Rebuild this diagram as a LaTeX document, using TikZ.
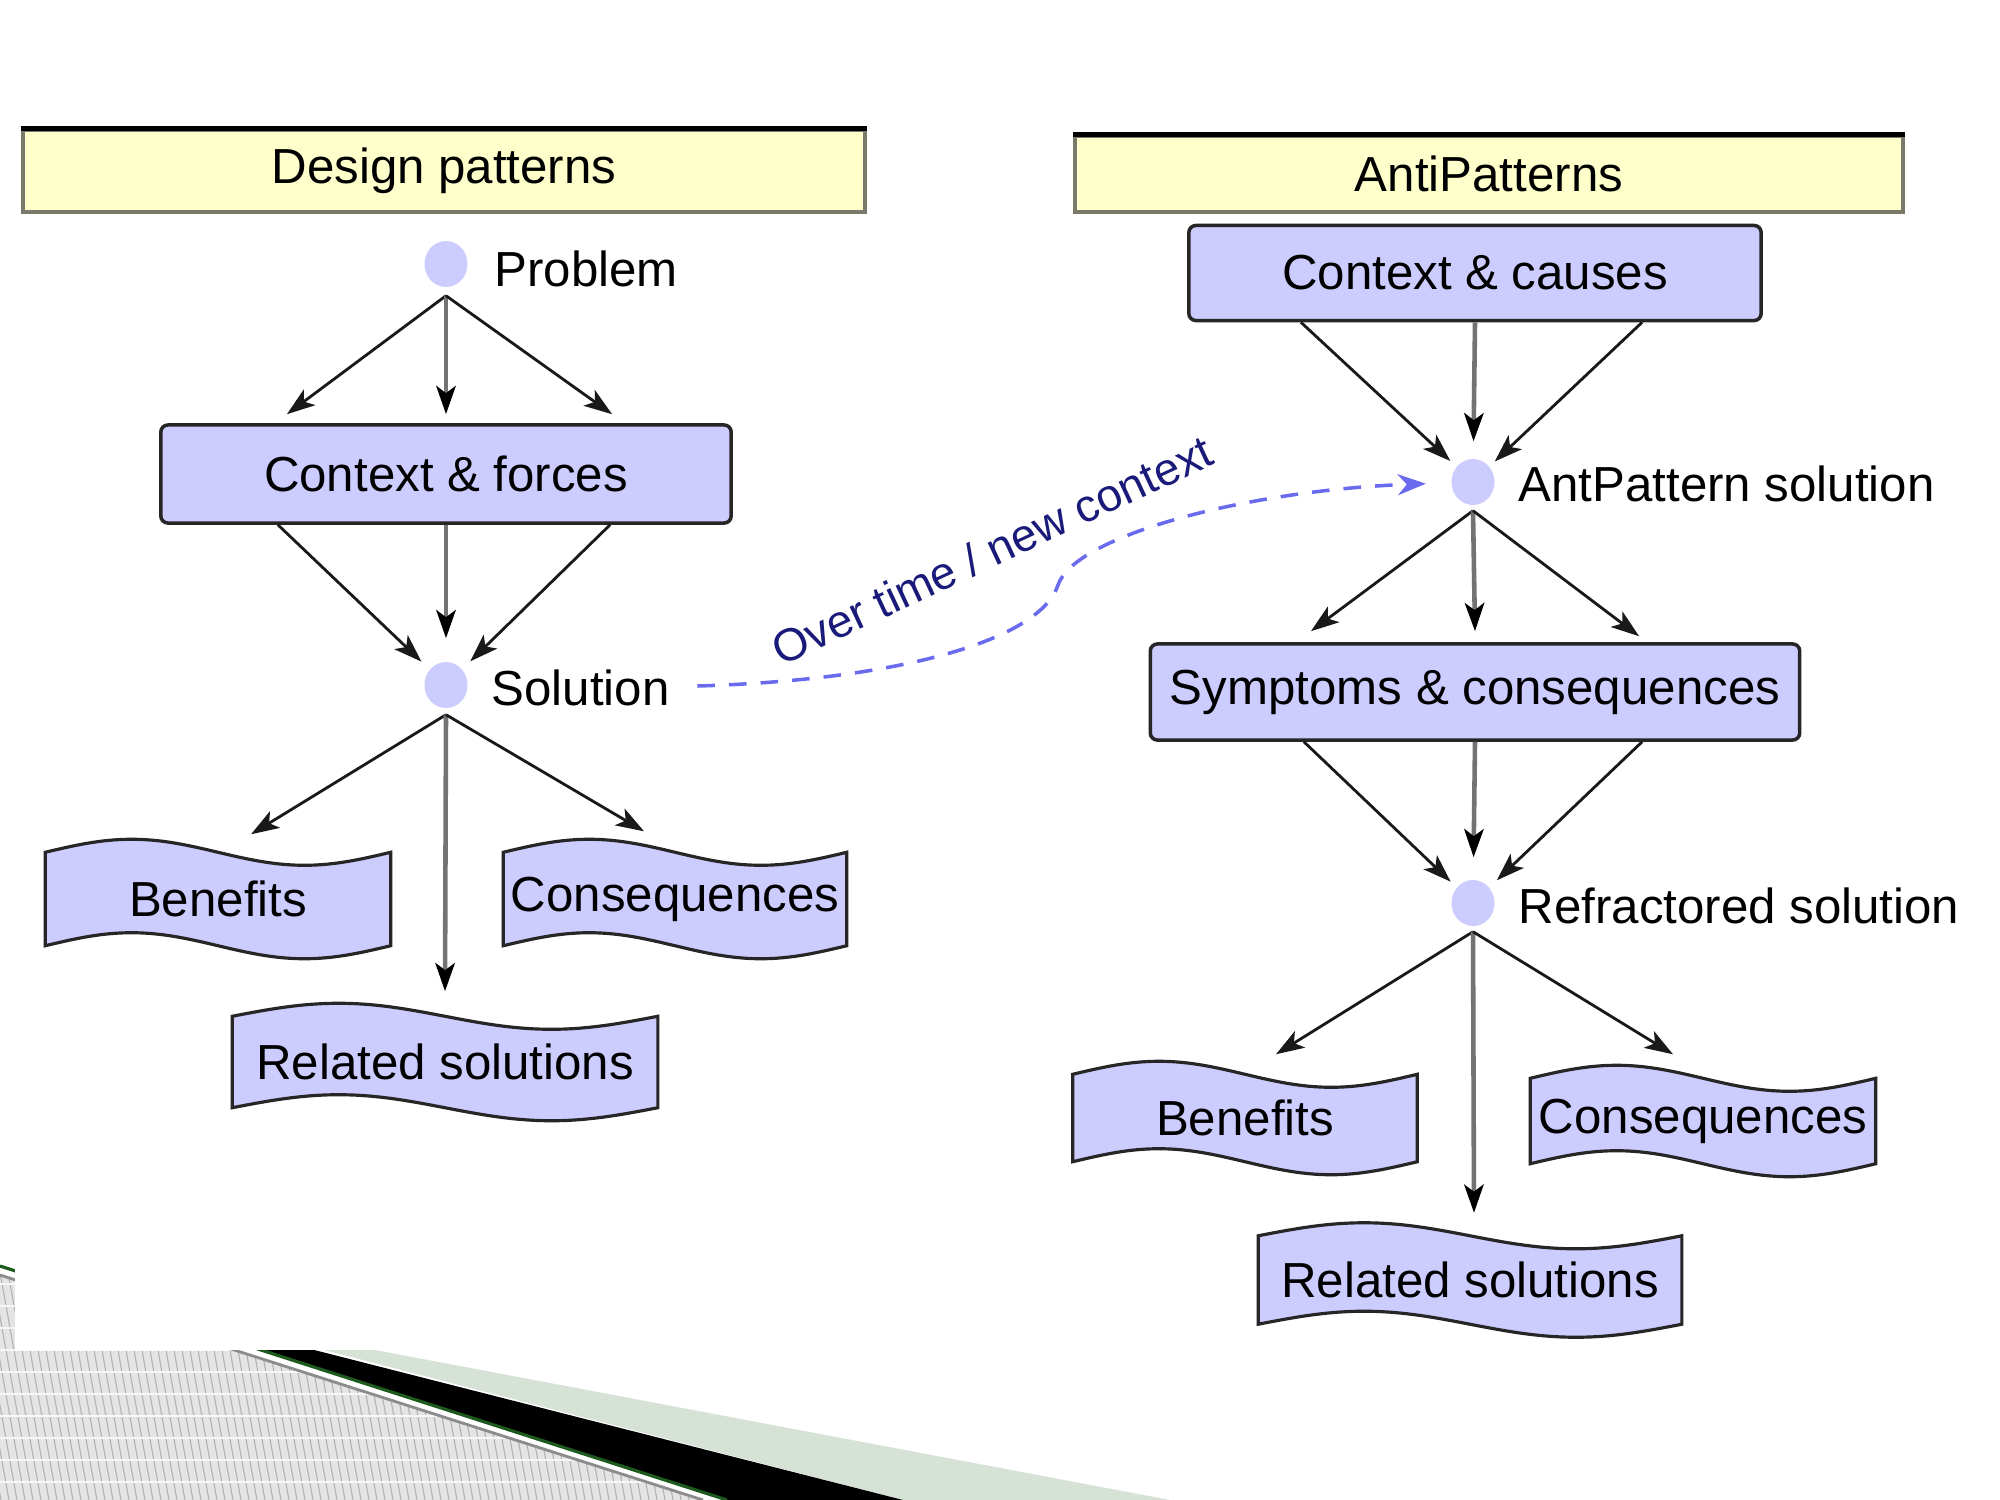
\documentclass[tikz,border=0pt]{standalone}
\usepackage{fontspec}
\setmainfont{Liberation Sans}
\usetikzlibrary{arrows.meta,calc,shapes.geometric}
\pgfdeclarelayer{back}
\pgfsetlayers{back,main}
\definecolor{boxfill}{HTML}{CCCCFF}
\definecolor{hdrfill}{HTML}{FFFFCC}
\definecolor{hdrline}{HTML}{7A7A6A}
\definecolor{dashblue}{HTML}{6A6AEE}
\definecolor{navytext}{HTML}{1A1A7A}
\definecolor{hatchbg}{HTML}{E4E4E4}
\definecolor{hatchln}{HTML}{B0B0B0}
\definecolor{bandgreen}{HTML}{D5E2D5}
\definecolor{linegreen}{HTML}{1E5A1E}
\newcommand\wavyshape[1]{%
  \path[draw=black!85, line width=0.9pt, fill=boxfill]
    let \p1=(#1.north west), \p2=(#1.south east), \n1={(\x2-\x1)/4} in
    (\x1,\y1) sin (\x1+\n1,\y1+3.7pt) cos (\x1+2*\n1,\y1)
    sin (\x1+3*\n1,\y1-3.7pt) cos (\x2,\y1) -- (\x2,\y2)
    sin (\x1+3*\n1,\y2-3.7pt) cos (\x1+2*\n1,\y2)
    sin (\x1+\n1,\y2+3.7pt) cos (\x1,\y2) -- cycle;}
\begin{document}
\begin{tikzpicture}[x=0.01cm,y=-0.01cm,
  txt/.style={font=\fontsize{14}{16}\selectfont},
  hdrbox/.style={txt, draw=hdrline, line width=1.1pt, fill=hdrfill, inner sep=0},
  flowbox/.style={txt, draw=black!85, line width=1pt, fill=boxfill, rounded corners=2pt, inner sep=0},
  dotnode/.style={ellipse, fill=boxfill, minimum width=0.43cm, minimum height=0.46cm, inner sep=0},
  lab/.style={txt, anchor=west, inner sep=0},
  wavenode/.style={txt, inner sep=0},
  arr/.style={-{Stealth[length=8pt,width=5.5pt,inset=2pt]}, line width=0.8pt, draw=black!90},
  carr/.style={-{Stealth[length=8pt,width=5.5pt,inset=2pt,color=black]}, line width=1.3pt, draw=black!55},
  dasharr/.style={-{Stealth[length=8pt,width=6pt]}, line width=1pt, draw=dashblue, dash pattern=on 5pt off 4pt}
]
\useasboundingbox (0,0) rectangle (2000,1500);
\begin{pgfonlayer}{back}
  \fill[white] (0,0) rectangle (2000,1500);
  % slide decoration
  \fill[hatchbg] (0,1266) -- (727,1500) -- (0,1500) -- cycle;
  \begin{scope}
    \clip (0,1266) -- (727,1500) -- (0,1500) -- cycle;
    \foreach \i in {-60,-52,...,740} \draw[hatchln, line width=0.3pt] (\i,1250) -- (\i+45,1500);
    \foreach \j in {1284,1306,...,1500} \draw[white!70!hatchbg, line width=0.4pt] (0,\j) -- (740,\j);
  \end{scope}
  \fill[white] (0,1266) -- (727,1500) -- (703,1500) -- (0,1275) -- cycle;
  \draw[black!45, line width=0.8pt] (0,1275) -- (703,1500);
  \fill[bandgreen] (0,1266) -- (903,1500) -- (1170,1500) -- (322,1340) -- cycle;
  \fill[black] (0,1266) -- (727,1500) -- (903,1500) -- (275,1340) -- cycle;
  \draw[linegreen, line width=0.9pt] (0,1266) -- (727,1500);
  \fill[white] (15,1150) rectangle (1300,1350);
\end{pgfonlayer}

% headers
\node[hdrbox, minimum width=8.42cm, minimum height=0.82cm] (hdA) at (444,171) {Design patterns};
\draw[black, line width=1.4pt] (hdA.north west) -- (hdA.north east);
\node[hdrbox, minimum width=8.28cm, minimum height=0.76cm] (hdB) at (1489,174) {AntiPatterns};
\draw[black, line width=1.4pt] (hdB.north west) -- (hdB.north east);

% left column
\node[dotnode] (p) at (446,264) {};
\node[lab] (plab) at (494,269) {Problem};
\node[flowbox, minimum width=5.70cm, minimum height=0.98cm] (cf) at (446,474) {Context \& forces};
\node[dotnode] (sol) at (446,685) {};
\node[lab] (slab) at (491,688) {Solution};
\node[wavenode, minimum width=3.44cm, minimum height=0.92cm] (bl) at (218,899) {Benefits};
\node[wavenode, minimum width=3.42cm, minimum height=0.92cm] (cl) at (675,899) {Consequences};
\node[wavenode, minimum width=4.24cm, minimum height=0.90cm] (rl) at (445,1062) {Related solutions};

% right column
\node[flowbox, minimum width=5.72cm, minimum height=0.95cm] (cc) at (1475,273) {Context \& causes};
\node[dotnode] (aps) at (1473,482) {};
\node[lab] (alab) at (1518,484) {AntPattern solution};
\node[flowbox, minimum width=6.49cm, minimum height=0.96cm] (sym) at (1475,692) {Symptoms \& consequences};
\node[dotnode] (rs) at (1473,903) {};
\node[lab] (rlab) at (1518,906) {Refractored solution};
\node[wavenode, minimum width=3.43cm, minimum height=0.86cm] (br) at (1245,1118) {Benefits};
\node[wavenode, minimum width=3.44cm, minimum height=0.84cm] (cr) at (1703,1121) {Consequences};
\node[wavenode, minimum width=4.22cm, minimum height=0.87cm] (rr) at (1470,1280) {Related solutions};

\begin{pgfonlayer}{back}
  \wavyshape{bl}
  \wavyshape{cl}
  \wavyshape{rl}
  \wavyshape{br}
  \wavyshape{cr}
  \wavyshape{rr}
\end{pgfonlayer}

% left arrows
\draw[arr] ([yshift=-0.08cm]p.south) -- ([xshift=-1.59cm,yshift=0.09cm]cf.north);
\draw[carr] ([yshift=-0.08cm]p.south) -- ([yshift=0.09cm]cf.north);
\draw[arr] ([yshift=-0.08cm]p.south) -- ([xshift=1.66cm,yshift=0.09cm]cf.north);
\draw[arr, shorten >=0.11cm] ([xshift=-1.68cm]cf.south) -- (sol);
\draw[carr, shorten >=0.23cm] (cf.south) -- (sol);
\draw[arr, shorten >=0.11cm] ([xshift=1.64cm]cf.south) -- (sol);
\draw[arr] ([yshift=-0.06cm]sol.south) -- ([xshift=0.33cm,yshift=0.18cm]bl.north);
\draw[carr] ([yshift=-0.06cm]sol.south) -- ([yshift=0.25cm]rl.north);
\draw[arr] ([yshift=-0.06cm]sol.south) -- ([xshift=-0.31cm,yshift=0.21cm]cl.north);

% right arrows
\draw[arr, shorten >=0.08cm] ([xshift=-1.74cm]cc.south) -- (aps);
\draw[carr, shorten >=0.17cm] (cc.south) -- (aps);
\draw[arr, shorten >=0.07cm] ([xshift=1.67cm]cc.south) -- (aps);
\draw[arr] ([yshift=-0.05cm]aps.south) -- ([xshift=-1.64cm,yshift=0.11cm]sym.north);
\draw[carr] ([yshift=-0.05cm]aps.south) -- ([yshift=0.11cm]sym.north);
\draw[arr] ([yshift=-0.05cm]aps.south) -- ([xshift=1.64cm,yshift=0.06cm]sym.north);
\draw[arr, shorten >=0.08cm] ([xshift=-1.71cm]sym.south) -- (rs);
\draw[carr, shorten >=0.22cm] (sym.south) -- (rs);
\draw[arr, shorten >=0.10cm] ([xshift=1.67cm]sym.south) -- (rs);
\draw[arr] ([yshift=-0.05cm]rs.south) -- ([xshift=0.31cm,yshift=0.20cm]br.north);
\draw[carr] ([yshift=-0.05cm]rs.south) -- ([xshift=0.04cm,yshift=0.23cm]rr.north);
\draw[arr] ([yshift=-0.05cm]rs.south) -- ([xshift=-0.30cm,yshift=0.24cm]cr.north);

% dashed transition
\draw[dasharr, shorten >=0.25cm] ([xshift=0.27cm,yshift=0.02cm]slab.east)
  .. controls (900,680) and (1040,640) .. (1058,585)
  .. controls (1075,535) and (1250,490) .. (aps);
\node[rotate=25, text=navytext, font=\fontsize{13}{15}\selectfont, inner sep=0] (ot) at (992,550) {Over time / new context};
\end{tikzpicture}
\end{document}
